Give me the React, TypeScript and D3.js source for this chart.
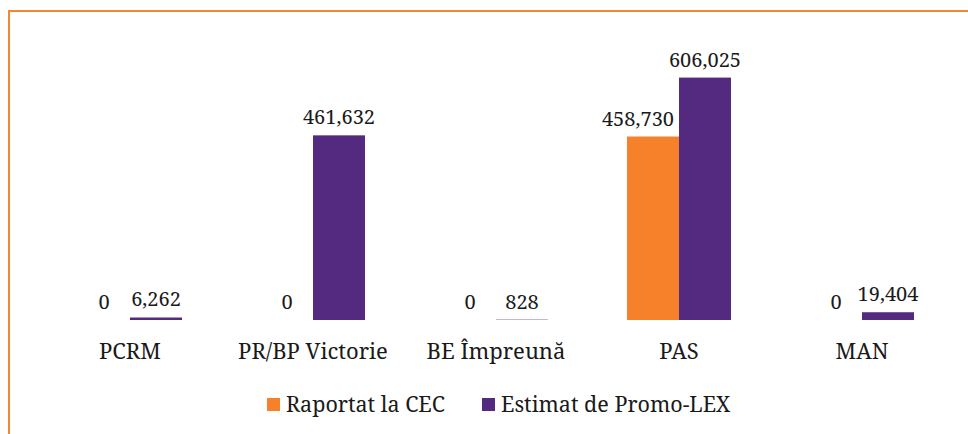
import React, { useEffect, useRef } from 'react';
import * as d3 from 'd3';

const categories = ['PCRM', 'PR/BP Victorie', 'BE Împreună', 'PAS', 'MAN'];
const seriesNames = ['Raportat la CEC', 'Estimat de Promo-LEX'];
const reported = [0, 0, 0, 458730, 0];
const estimated = [6262, 461632, 828, 606025, 19404];
const colors = ['#F7812A', '#532A80'];

const W = 968;
const H = 434;
const FONT = 'Noto Serif, Liberation Serif, serif';

const App: React.FC = () => {
  const svgRef = useRef<SVGSVGElement>(null);

  useEffect(() => {
    if (!svgRef.current) return;
    const svg = d3.select(svgRef.current);
    svg.selectAll('*').remove();

    // frame (only top and left edges are visible)
    svg.append('line')
      .attr('x1', 9).attr('y1', 11).attr('x2', W).attr('y2', 11)
      .attr('stroke', '#F58634').attr('stroke-width', 2);
    svg.append('line')
      .attr('x1', 9).attr('y1', 10).attr('x2', 9).attr('y2', H)
      .attr('stroke', '#F58634').attr('stroke-width', 2);

    const x = d3.scaleBand<string>()
      .domain(categories)
      .range([38.5, 953.5])
      .paddingInner(0.4317)
      .paddingOuter(0.4317 / 2);

    const x1 = d3.scaleBand<string>()
      .domain(seriesNames)
      .range([0, x.bandwidth()]);

    const y = d3.scaleLinear().domain([0, 700000]).range([320, 40]);
    const fmt = d3.format(',');

    const rows = categories.map((c, i) => ({
      cat: c,
      vals: [reported[i], estimated[i]]
    }));

    const groups = svg.selectAll('.grp')
      .data(rows)
      .enter()
      .append('g')
      .attr('class', 'grp')
      .attr('transform', d => `translate(${x(d.cat)},0)`);

    groups.selectAll('rect')
      .data(d => d.vals.map((v, j) => ({ v, s: seriesNames[j], j })))
      .enter()
      .append('rect')
      .attr('x', d => x1(d.s)!)
      .attr('y', d => y(d.v))
      .attr('width', x1.bandwidth())
      .attr('height', d => y(0) - y(d.v))
      .attr('fill', d => colors[d.j]);

    // value labels; a label that would run into the taller bar next to it is pushed left
    groups.selectAll('text.val')
      .data(d => d.vals.map((v, j) => ({ v, s: seriesNames[j], j, other: d.vals[1 - j] })))
      .enter()
      .append('text')
      .attr('class', 'val')
      .each(function (d) {
        const crowded = d.j === 0 && d.other > d.v && d.v > 0;
        d3.select(this)
          .attr('x', crowded ? x1(d.s)! + x1.bandwidth() - 5 : x1(d.s)! + x1.bandwidth() / 2)
          .attr('text-anchor', crowded ? 'end' : 'middle');
      })
      .attr('y', d => y(d.v) - 11)
      .attr('font-family', FONT)
      .attr('font-size', 20)
      .attr('fill', '#1a1a1a')
      .text(d => fmt(d.v));

    // category labels
    svg.selectAll('.cat')
      .data(categories)
      .enter()
      .append('text')
      .attr('class', 'cat')
      .attr('x', d => x(d)! + x.bandwidth() / 2)
      .attr('y', 359)
      .attr('text-anchor', 'middle')
      .attr('font-family', FONT)
      .attr('font-size', 22)
      .attr('fill', '#1a1a1a')
      .text(d => d);

    // legend
    const legendX = [267, 482];
    const legend = svg.selectAll('.leg')
      .data(seriesNames)
      .enter()
      .append('g')
      .attr('class', 'leg')
      .attr('transform', (d, i) => `translate(${legendX[i]},398)`);

    legend.append('rect')
      .attr('width', 13)
      .attr('height', 13)
      .attr('fill', (d, i) => colors[i]);

    legend.append('text')
      .attr('x', 19)
      .attr('y', 14)
      .attr('font-family', FONT)
      .attr('font-size', 21.5)
      .attr('fill', '#1a1a1a')
      .text(d => d);
  }, []);

  return (
    <svg
      ref={svgRef}
      width={W}
      height={H}
      style={{ position: 'absolute', left: 0, top: 0, display: 'block', background: '#fff' }}
    />
  );
};

export default App;
